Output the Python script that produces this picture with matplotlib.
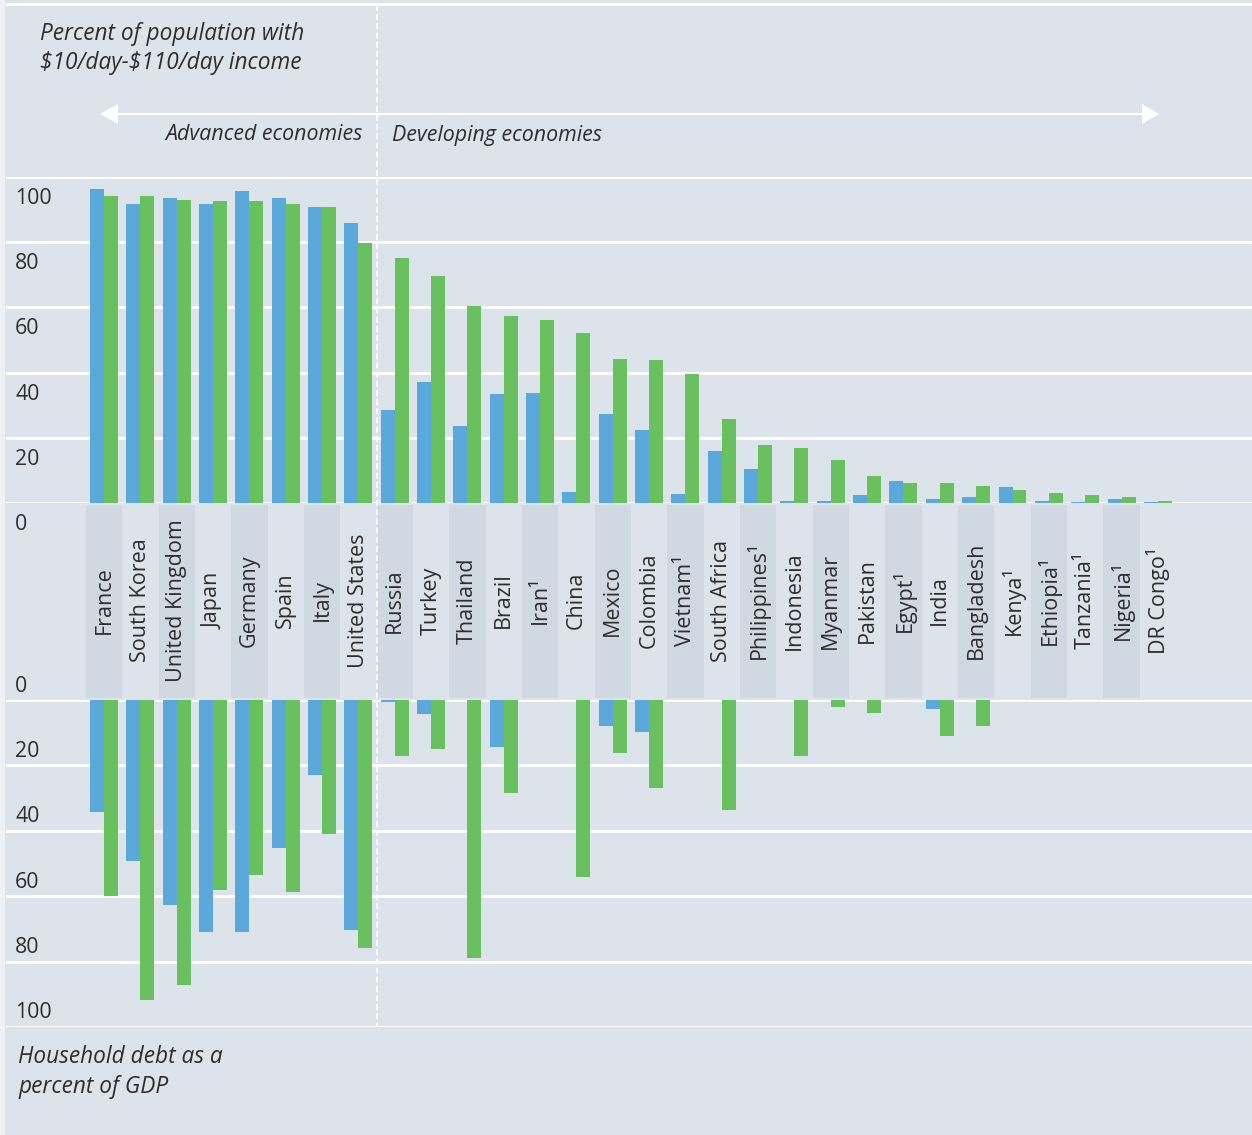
import matplotlib
matplotlib.use('Agg')
import matplotlib.pyplot as plt
import matplotlib.transforms as mtransforms
from matplotlib.patches import Polygon, Rectangle

plt.rcParams['font.family'] = ['Open Sans', 'DejaVu Sans']
plt.rcParams['lines.scale_dashes'] = False

# ---------------- data ----------------
countries = ['France', 'South Korea', 'United Kingdom', 'Japan', 'Germany', 'Spain',
             'Italy', 'United States', 'Russia', 'Turkey', 'Thailand', 'Brazil',
             'Iran¹', 'China', 'Mexico', 'Colombia', 'Vietnam¹', 'South Africa',
             'Philippines¹', 'Indonesia', 'Myanmar', 'Pakistan', 'Egypt¹', 'India',
             'Bangladesh', 'Kenya¹', 'Ethiopia¹', 'Tanzania¹', 'Nigeria¹', 'DR Congo¹']

income_blue = [96.3, 91.8, 93.6, 91.8, 95.7, 93.6, 90.8, 85.9, 28.4, 37.2, 23.7, 33.5,
               33.8, 3.3, 27.4, 22.5, 2.7, 15.8, 10.3, 0.6, 0.6, 2.4, 6.7, 1.2,
               1.8, 4.9, 0.6, 0.3, 1.2, 0.3]
income_green = [94.2, 94.2, 93.0, 92.7, 92.7, 91.8, 90.8, 79.8, 75.3, 69.5, 60.3, 57.4,
                56.1, 52.1, 44.2, 43.9, 39.6, 25.9, 17.7, 17.0, 13.2, 8.3, 6.1, 6.1,
                5.2, 4.0, 3.1, 2.4, 1.8, 0.6]

debt_blue = [34.1, 49.3, 62.7, 71.0, 71.0, 45.4, 22.8, 70.4, 0.6, 4.3, 0.0, 14.3,
             0.0, 0.0, 7.9, 9.7, 0.0, 0.0, 0.0, 0.0, 0.0, 0.0, 0.0, 2.7,
             0.0, 0.0, 0.0, 0.0, 0.0, 0.0]
debt_green = [60.0, 91.7, 87.1, 58.2, 53.6, 58.8, 41.1, 75.8, 17.1, 14.9, 78.9, 28.3,
              0.0, 54.2, 16.1, 26.8, 0.0, 33.5, 0.0, 17.1, 2.1, 4.0, 0.0, 11.0,
              7.9, 0.0, 0.0, 0.0, 0.0, 0.0]

ticks = [0, 20, 40, 60, 80, 100]
n_advanced = 8

# ---------------- style ----------------
W, H = 1252, 1135
BG = '#dce3eb'
BOX = '#d0d8e1'
BLUE = '#5ba8db'
GREEN = '#68c15e'
TXT = '#2e2e2e'
WHITE = '#ffffff'

fig = plt.figure(figsize=(W / 100, H / 100), dpi=100, facecolor=BG)


def fx(x):
    return x / W


def fy(y):
    return 1 - y / H


X0, PITCH = 104.0, 36.34
AX_L = 6
XLIM = (-(X0 - AX_L) / PITCH, (W - X0) / PITCH)
BW = 0.385


def make_ax(ytop, ybot):
    ax = fig.add_axes([fx(AX_L), fy(ybot), (W - AX_L) / W, (ybot - ytop) / H])
    ax.set_xlim(*XLIM)
    ax.axis('off')
    return ax


# background overlay (pixel coords)
ov = fig.add_axes([0, 0, 1, 1], zorder=0)
ov.set_xlim(0, W)
ov.set_ylim(H, 0)
ov.axis('off')
ov.add_patch(Rectangle((0, 0), 5, H, color='#eef1f5', lw=0))
ov.plot([5, W], [4, 4], color=WHITE, lw=2, solid_capstyle='butt')

# panels
ax_top = make_ax(177, 503)
ax_top.set_ylim(0, 100)
ax_mid = make_ax(503, 700)
ax_mid.set_ylim(0, 1)
ax_bot = make_ax(700, 1027)
ax_bot.set_ylim(100, 0)

x = list(range(len(countries)))

for ax in (ax_top, ax_bot):
    for t in ticks:
        ax.axhline(t, color=WHITE, lw=2, zorder=1)

ax_top.bar([i - BW for i in x], income_blue, width=BW, align='edge', color=BLUE, lw=0, zorder=3)
ax_top.bar(x, income_green, width=BW, align='edge', color=GREEN, lw=0, zorder=3)
ax_bot.bar([i - BW for i in x], debt_blue, width=BW, align='edge', color=BLUE, lw=0, zorder=3)
ax_bot.bar(x, debt_green, width=BW, align='edge', color=GREEN, lw=0, zorder=3)

# label strip with alternating boxes
even = [i for i in x if i % 2 == 0]
ax_mid.bar(even, [0.98] * len(even), bottom=0.01, width=1.0, color=BOX, lw=0, zorder=1)
for i, name in enumerate(countries):
    ax_mid.text(i, 0.505, name, rotation=90, ha='center', va='center',
                fontsize=15.5, color=TXT, zorder=3)

# tick labels
for ax, dy in ((ax_top, -27), (ax_bot, 8.5)):
    tr = mtransforms.blended_transform_factory(fig.transFigure, ax.transData)
    tr = mtransforms.offset_copy(tr, fig=fig, x=0, y=dy, units='dots')
    for t in ticks:
        ax.text(fx(15), t, str(t), transform=tr, ha='left', va='baseline',
                fontsize=15.3, color=TXT)

# dashed divider between advanced and developing economies
xdiv = X0 + PITCH * (n_advanced - 0.5)
ov2 = fig.add_axes([0, 0, 1, 1], zorder=5)
ov2.set_xlim(0, W)
ov2.set_ylim(H, 0)
ov2.axis('off')
ov2.plot([xdiv, xdiv], [5, 1027], color=WHITE, lw=1.2, linestyle=(0, (4.3, 2.3)))

# arrow
ov2.plot([116, 1144], [114, 114], color=WHITE, lw=1.5, solid_capstyle='butt')
ov2.add_patch(Polygon([[100, 114], [118, 104], [118, 124]], closed=True, color=WHITE, lw=0))
ov2.add_patch(Polygon([[1159, 114], [1142, 104], [1142, 124]], closed=True, color=WHITE, lw=0))

# texts
ov2.text(40, 34, 'Percent of population with', style='italic', fontsize=16.3,
         color=TXT, ha='left', va='center')
ov2.text(40, 63, r'\$10/day-\$110/day income', style='italic', fontsize=16.3,
         color=TXT, ha='left', va='center')
ov2.text(363, 135, 'Advanced economies', style='italic', fontsize=15.4,
         color=TXT, ha='right', va='center')
ov2.text(392, 135, 'Developing economies', style='italic', fontsize=15.4,
         color=TXT, ha='left', va='center')
ov2.text(18, 1057, 'Household debt as a', style='italic', fontsize=16.3,
         color=TXT, ha='left', va='center')
ov2.text(18, 1087, 'percent of GDP', style='italic', fontsize=16.3,
         color=TXT, ha='left', va='center')

fig.savefig('out.png', dpi=100, facecolor=BG)
